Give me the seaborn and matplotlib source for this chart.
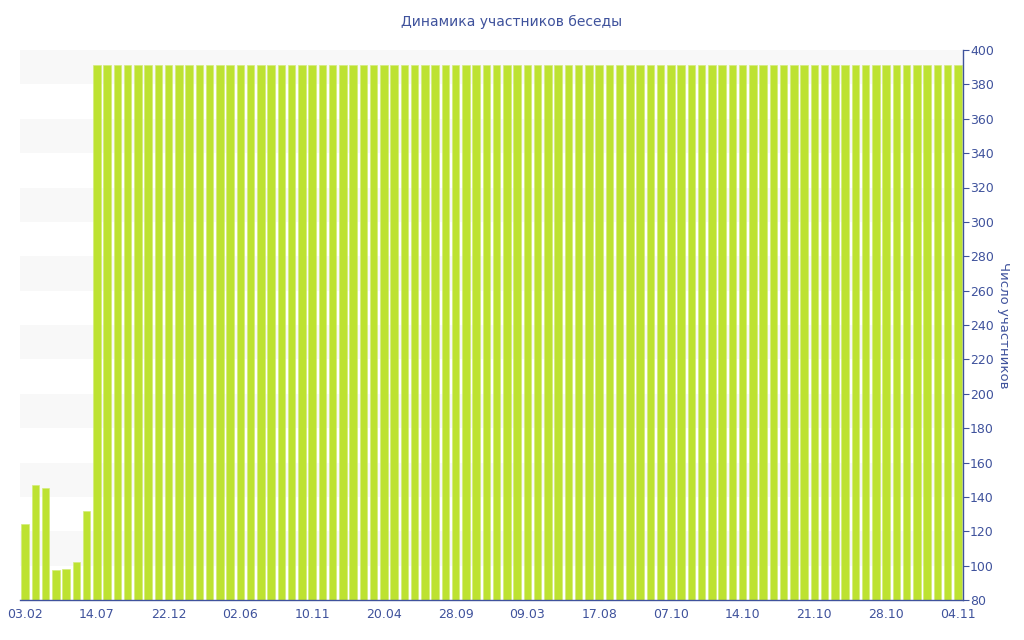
import matplotlib
matplotlib.use("Agg")
import matplotlib.pyplot as plt
import seaborn as sns
import pandas as pd

title = "Динамика участников беседы"
y_label = "Число участников"

# participant counts per period (92 bars)
first_values = [124, 147, 145, 97.5, 98, 102, 132]
plateau_values = [391] * 85
values = first_values + plateau_values

tick_labels = ["03.02", "14.07", "22.12", "02.06", "10.11", "20.04", "28.09",
               "09.03", "17.08", "07.10", "14.10", "21.10", "28.10", "04.11"]
tick_step = 7

y_min, y_max = 80, 400
y_ticks = list(range(80, 401, 20))

text_color = "#3f529c"
bar_color = "#bde231"
band_color = "#f8f8f8"

df = pd.DataFrame({"idx": list(range(len(values))), "value": values})

sns.set_theme(style="white")
plt.rcParams['font.family'] = ['DejaVu Sans']

fig = plt.figure(figsize=(10.24, 6.4), dpi=100)
ax = fig.add_axes([20 / 1024, 1 - 600 / 640, 943 / 1024, 550 / 640])

# alternating bands
for lo in range(100, 400, 40):
    ax.axhspan(lo, lo + 20, color=band_color, zorder=0, lw=0)

sns.barplot(data=df, x="idx", y="value", color=bar_color, saturation=1,
            width=0.74, edgecolor="#d4ec7a", linewidth=0.5, ax=ax, zorder=2)

ax.set_xlim(-0.5, len(values) - 0.5)
ax.set_ylim(y_min, y_max)

ax.set_xticks([i * tick_step for i in range(len(tick_labels))])
ax.set_xticklabels(tick_labels)
ax.yaxis.tick_right()
ax.yaxis.set_label_position("right")
ax.set_yticks(y_ticks)
ax.set_yticklabels([str(t) for t in y_ticks])

ax.tick_params(axis="both", colors=text_color, labelcolor=text_color,
               labelsize=9, length=4, width=0.8, pad=1)
ax.tick_params(axis="x", direction="out", pad=2)
ax.tick_params(axis="y", direction="out", pad=1)

for side in ["top", "left"]:
    ax.spines[side].set_visible(False)
for side in ["bottom", "right"]:
    ax.spines[side].set_visible(True)
    ax.spines[side].set_color(text_color)
    ax.spines[side].set_linewidth(1.0)

ax.set_xlabel("")
ax.set_ylabel(y_label, color=text_color, fontsize=9.5, rotation=270,
              labelpad=12)

fig.text(0.5, 1 - 22 / 640, title, ha="center", va="center",
         color=text_color, fontsize=10)

fig.savefig("out.png", dpi=100)
